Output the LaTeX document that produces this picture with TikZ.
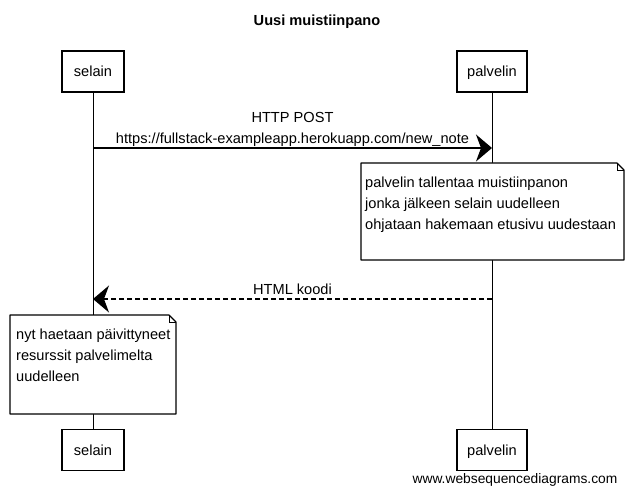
\documentclass[tikz,border=0pt]{standalone}
\usepackage{fontspec}
\setmainfont{Liberation Sans}
\usepackage{tikz}
\usetikzlibrary{positioning,calc,arrows.meta}
\tikzset{
  actorBox/.style={
    rectangle,
    draw=black,
    line width=1.1pt,
    fill=white,
    minimum height=41pt,
    text height=10.6pt,
    text depth=0pt,
    font=\fontsize{14.6}{17}\selectfont
 },
  lifeLine/.style={
    draw=black,
    line width=0.8pt
 },
  msgLine/.style={
    -{Stealth[length=16pt,width=27pt,inset=5pt]},
    line width=1.3pt
 },
  replyLine/.style={
    msgLine,
    dash pattern=on 5pt off 3pt
 },
  msgLabel/.style={
    font=\fontsize{14.6}{21}\selectfont,
    align=center,
    inner sep=1pt,
    text depth=3.2pt
 },
  noteFrame/.style={
    draw=black,
    line width=1.1pt,
    fill=white,
    line join=round
 },
  noteText/.style={
    font=\fontsize{14.6}{21}\selectfont,
    align=left,
    inner sep=0pt,
    anchor=north west
 }
}

\begin{document}
\begin{tikzpicture}[x=1pt,y=-1pt]
  \useasboundingbox (0,0) rectangle (633,495);

  \node[font=\fontsize{14.6}{17}\selectfont\bfseries, anchor=base] (title) at (317,26) {Uusi muistiinpano};

  \node[actorBox, minimum width=62pt] (selainTop) at (93,71.5) {selain};
  \node[actorBox, minimum width=70pt] (palvelinTop) at (492,71.5) {palvelin};
  \node[actorBox, minimum width=62pt] (selainBottom) at (93,450) {selain};
  \node[actorBox, minimum width=70pt] (palvelinBottom) at (492,450) {palvelin};

  \draw[lifeLine] (selainTop) -- (selainBottom);
  \draw[lifeLine] (palvelinTop) -- (palvelinBottom);

  \coordinate (postFrom) at (selainTop |- 0,148);
  \coordinate (postTo) at (palvelinTop |- 0,148);
  \coordinate (htmlFrom) at (palvelinTop |- 0,299);
  \coordinate (htmlTo) at (selainTop |- 0,299);

  % lomakkeen lähetys
  \draw[msgLine] (postFrom) -- node[msgLabel, above] (postLabel) {HTTP POST\\https://fullstack-exampleapp.herokuapp.com/new\_note} (postTo);

  \draw[noteFrame] (361,163) -- (617,163) -- (624,170) -- (624,260) -- (361,260) -- cycle;
  \draw[line width=0.8pt] (617,163) -- (617,170) -- (624,170);
  \node[noteText] (saveNote) at (365,176.4) {palvelin tallentaa muistiinpanon\\jonka jälkeen selain uudelleen\\ohjataan hakemaan etusivu uudestaan};

  \draw[replyLine] (htmlFrom) -- node[msgLabel, above] (htmlLabel) {HTML koodi} (htmlTo);

  \draw[noteFrame] (10,315) -- (169,315) -- (176,322) -- (176,414) -- (10,414) -- cycle;
  \draw[line width=0.8pt] (169,315) -- (169,322) -- (176,322);
  \node[noteText] (reloadNote) at (16,329) {nyt haetaan päivittyneet\\resurssit palvelimelta\\uudelleen};

  \node[font=\fontsize{13.8}{16}\selectfont, anchor=base] (watermark) at (515,483) {www.websequencediagrams.com};
\end{tikzpicture}
\end{document}
